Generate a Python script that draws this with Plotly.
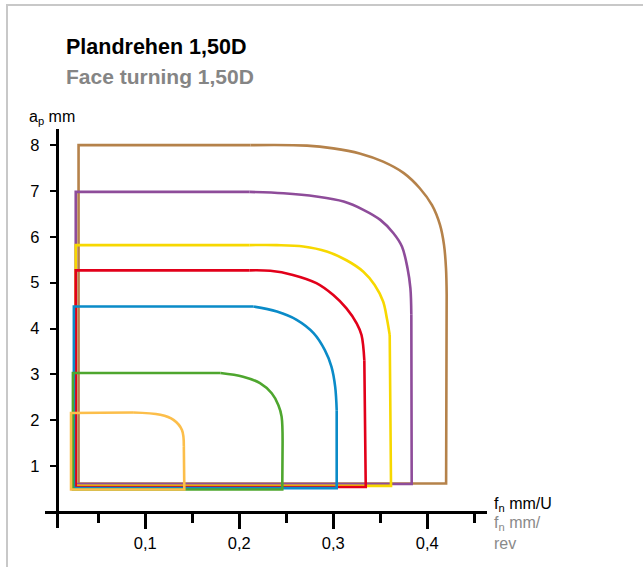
import plotly.graph_objects as go

# ---- data (f_n in mm/U, a_p in mm) ----
x_major = [0.1, 0.2, 0.3, 0.4]
x_major_text = ["0,1", "0,2", "0,3", "0,4"]
x_minor = [0.05, 0.15, 0.25, 0.35, 0.45]
y_ticks = [1, 2, 3, 4, 5, 6, 7, 8]

colors = ["#B5824A", "#8E4C9A", "#F7D800", "#E2001A", "#0A8BC8", "#4EA62E", "#FCBE4A"]

# outline: top-left corner -> along top -> rounded corner -> bottom of right edge
brown_x = [0.029, 0.212, 0.272, 0.300, 0.328, 0.353, 0.375, 0.392, 0.405, 0.4135, 0.4178, 0.4199, 0.4206, 0.4200]
brown_y = [8.00, 8.00, 7.99, 7.93, 7.82, 7.64, 7.39, 7.06, 6.69, 6.26, 5.82, 5.31, 4.73, 0.62]
brown_bottom = 0.62

purple_x = [0.026, 0.211, 0.247, 0.282, 0.311, 0.332, 0.350, 0.364, 0.373, 0.379, 0.382, 0.383, 0.3834]
purple_y = [6.98, 6.98, 6.95, 6.88, 6.77, 6.59, 6.37, 6.08, 5.79, 5.31, 4.88, 4.30, 0.61]
purple_bottom = 0.61

yellow_x = [0.026, 0.211, 0.240, 0.268, 0.293, 0.314, 0.332, 0.344, 0.353, 0.357, 0.360, 0.3614]
yellow_y = [5.82, 5.82, 5.82, 5.79, 5.68, 5.49, 5.24, 4.95, 4.59, 4.22, 3.86, 0.57]
yellow_bottom = 0.57

red_x = [0.026, 0.211, 0.233, 0.257, 0.282, 0.300, 0.314, 0.325, 0.330, 0.333, 0.3345]
red_y = [5.27, 5.27, 5.26, 5.17, 4.99, 4.73, 4.44, 4.11, 3.86, 3.31, 0.545]
red_bottom = 0.545

blue_x = [0.024, 0.215, 0.240, 0.261, 0.279, 0.291, 0.298, 0.302, 0.3036, 0.3036]
blue_y = [4.48, 4.48, 4.37, 4.19, 3.90, 3.53, 3.17, 2.73, 2.22, 0.52]
blue_bottom = 0.52

green_x = [0.023, 0.180, 0.204, 0.222, 0.2345, 0.2416, 0.245, 0.246, 0.2457]
green_y = [3.03, 3.03, 2.95, 2.81, 2.59, 2.33, 2.08, 1.35, 0.49]
green_bottom = 0.49

orange_x = [0.021, 0.087, 0.116, 0.130, 0.139, 0.141, 0.1415]
orange_y = [2.16, 2.17, 2.12, 2.01, 1.79, 1.42, 0.49]
orange_bottom = 0.49

series = [
    (brown_x, brown_y, brown_bottom),
    (purple_x, purple_y, purple_bottom),
    (yellow_x, yellow_y, yellow_bottom),
    (red_x, red_y, red_bottom),
    (blue_x, blue_y, blue_bottom),
    (green_x, green_y, green_bottom),
    (orange_x, orange_y, orange_bottom),
]

FONT = "Liberation Sans, Arial, Helvetica, sans-serif"

fig = go.Figure()
for (sx, sy, sb), col in zip(series, colors):
    # straight parts: end of corner -> bottom-right -> bottom-left -> top-left -> start of corner
    fig.add_trace(go.Scatter(
        x=[sx[-2], sx[-1], sx[0], sx[0], sx[1]],
        y=[sy[-2], sb, sb, sy[0], sy[1]],
        mode="lines", line=dict(color=col, width=2.6),
        hoverinfo="skip", showlegend=False))
    # rounded corner
    fig.add_trace(go.Scatter(
        x=sx[1:-1], y=sy[1:-1], mode="lines",
        line=dict(color=col, width=2.6, shape="spline", smoothing=1.0),
        hoverinfo="skip", showlegend=False))

W, H = 643, 567
ml, mr, mt, mb = 45, 156, 129, 39
pw, ph = W - ml - mr, H - mt - mb


def px(xp):
    return (xp - ml) / pw


def py(yp):
    return (H - mb - yp) / ph


x_range = [-0.0067, 0.4635]
y_range = [-0.349, 8.352]

fig.update_layout(
    width=W, height=H,
    margin=dict(l=ml, r=mr, t=mt, b=mb, autoexpand=False),
    paper_bgcolor="white", plot_bgcolor="white",
    font=dict(family=FONT, color="black", size=15),
    xaxis=dict(
        range=x_range, anchor="free", position=(0 - y_range[0]) / (y_range[1] - y_range[0]),
        automargin=False,
        showgrid=False, zeroline=False,
        showline=True, linecolor="black", linewidth=2.6,
        ticks="outside", ticklen=15, tickwidth=2.6, tickcolor="black",
        tickvals=x_major, ticktext=x_major_text,
        tickfont=dict(size=16.5, family=FONT, color="black"),
        minor=dict(tickvals=x_minor, ticks="outside", ticklen=9, tickwidth=2.6, tickcolor="black"),
    ),
    yaxis=dict(
        range=y_range, anchor="free", position=px(56.5),
        automargin=False,
        showgrid=False, zeroline=False,
        showline=True, linecolor="black", linewidth=2.6,
        ticks="outside", ticklen=6, tickwidth=2.2, tickcolor="black",
        tickvals=y_ticks, ticktext=[str(v) for v in y_ticks],
        tickfont=dict(size=16.5, family=FONT, color="black"),
        ticklabelstandoff=7,
    ),
)

annotations = [
    dict(x=px(64), y=py(47), text="<b>Plandrehen 1,50D</b>", size=21.5, color="black"),
    dict(x=px(64), y=py(76), text="<b>Face turning 1,50D</b>", size=21, color="#858585"),
    dict(x=px(27), y=py(117), text="a<sub>p</sub> mm", size=16, color="black"),
    dict(x=px(492), y=py(504), text="f<sub>n</sub> mm/U", size=16, color="black"),
    dict(x=px(492), y=py(533), text="f<sub>n</sub> mm/<br>rev", size=16, color="#8a8a8a"),
]
for a in annotations:
    fig.add_annotation(xref="paper", yref="paper", x=a["x"], y=a["y"], text=a["text"],
                       font=dict(family=FONT, size=a["size"], color=a["color"]),
                       xanchor="left", yanchor="middle", showarrow=False, align="left")

# light grey frame (top and left edges)
fig.add_shape(type="line", xref="paper", yref="paper", x0=px(6), x1=px(660), y0=py(5), y1=py(5),
              line=dict(color="#C8C8C8", width=2))
fig.add_shape(type="line", xref="paper", yref="paper", x0=px(7), x1=px(7), y0=py(4), y1=py(580),
              line=dict(color="#C8C8C8", width=2))

fig.write_html("out.html", config={"displayModeBar": False},
               post_script="document.body.style.margin='0px';document.body.style.overflow='hidden';")
